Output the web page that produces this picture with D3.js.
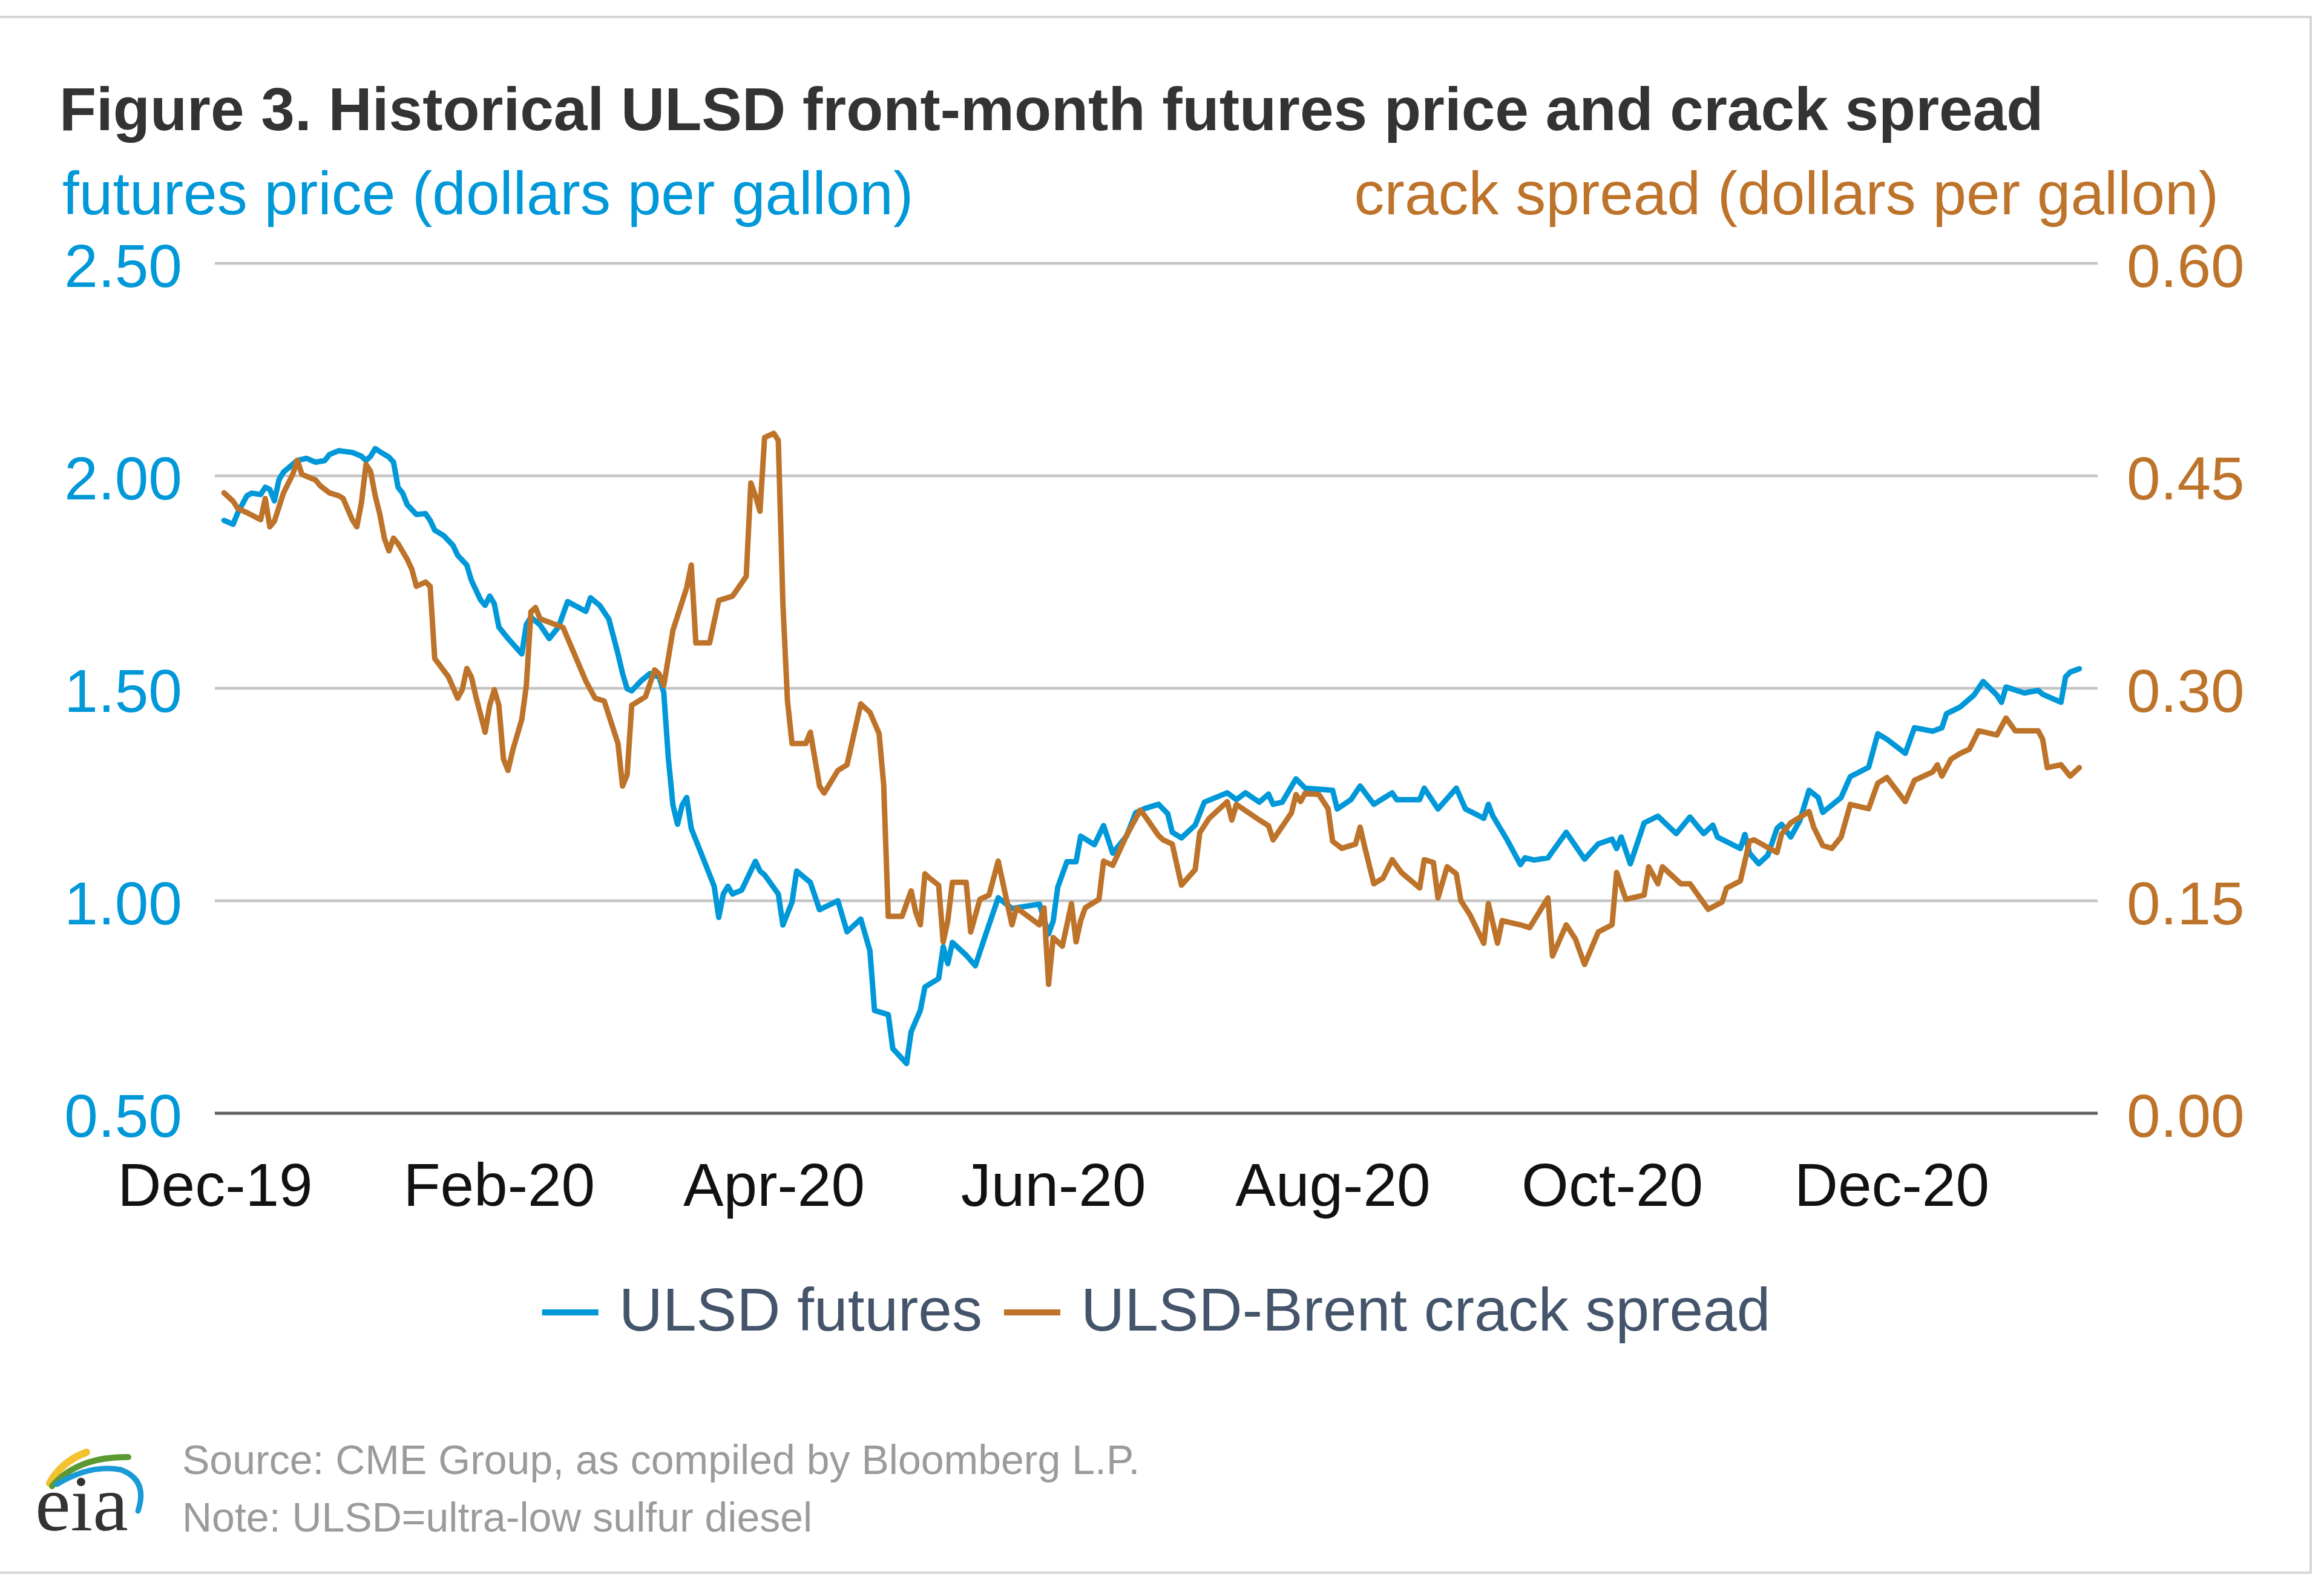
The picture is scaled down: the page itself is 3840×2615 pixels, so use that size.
<!DOCTYPE html>
<html><head><meta charset="utf-8">
<script src="https://cdn.jsdelivr.net/npm/d3@7"></script>
<style>
html,body{margin:0;padding:0;background:#fff;}
svg{display:block;}
text{font-family:"Liberation Sans",Arial,Helvetica,sans-serif;}
text.serif{font-family:"Liberation Serif","DejaVu Serif",serif;}
</style></head><body>
<svg id="chart" width="3840" height="2615"></svg>
<script>
// ---------------- DATA ----------------
const titleText = "Figure 3. Historical ULSD front-month futures price and crack spread";
const leftAxisTitle = "futures price (dollars per gallon)";
const rightAxisTitle = "crack spread (dollars per gallon)";
const seriesNames = ["ULSD futures", "ULSD-Brent crack spread"];
const sourceText = "Source: CME Group, as compiled by Bloomberg L.P.";
const noteText = "Note: ULSD=ultra-low sulfur diesel";
const priceTicks = [0.5, 1.0, 1.5, 2.0, 2.5];
const spreadTicks = [0, 0.15, 0.30, 0.45, 0.60];
const dateTicks = ["2019-12-01","2020-02-01","2020-04-01","2020-06-01","2020-08-01","2020-10-01","2020-12-01"];
const dateDomain = ["2019-12-01","2021-01-15"];

const futures = [["2019-12-03",1.895],["2019-12-05",1.886],["2019-12-06",1.913],["2019-12-08",1.953],["2019-12-09",1.959],["2019-12-11",1.956],["2019-12-12",1.973],["2019-12-13",1.968],["2019-12-14",1.941],["2019-12-15",1.991],["2019-12-16",2.009],["2019-12-18",2.027],["2019-12-19",2.036],["2019-12-21",2.041],["2019-12-23",2.032],["2019-12-25",2.036],["2019-12-26",2.050],["2019-12-28",2.059],["2019-12-31",2.055],["2020-01-02",2.046],["2020-01-03",2.036],["2020-01-04",2.046],["2020-01-05",2.064],["2020-01-06",2.057],["2020-01-08",2.044],["2020-01-09",2.032],["2020-01-10",1.973],["2020-01-11",1.959],["2020-01-12",1.932],["2020-01-14",1.909],["2020-01-16",1.911],["2020-01-17",1.895],["2020-01-18",1.872],["2020-01-20",1.859],["2020-01-22",1.836],["2020-01-23",1.813],["2020-01-25",1.790],["2020-01-26",1.754],["2020-01-28",1.708],["2020-01-29",1.695],["2020-01-30",1.717],["2020-01-31",1.699],["2020-02-01",1.644],["2020-02-03",1.617],["2020-02-06",1.581],["2020-02-07",1.650],["2020-02-08",1.667],["2020-02-10",1.649],["2020-02-12",1.617],["2020-02-14",1.644],["2020-02-16",1.704],["2020-02-20",1.681],["2020-02-21",1.713],["2020-02-23",1.695],["2020-02-25",1.663],["2020-02-27",1.581],["2020-02-28",1.535],["2020-02-29",1.499],["2020-03-01",1.494],["2020-03-03",1.517],["2020-03-05",1.535],["2020-03-07",1.526],["2020-03-08",1.490],["2020-03-09",1.335],["2020-03-10",1.225],["2020-03-11",1.180],["2020-03-12",1.225],["2020-03-13",1.243],["2020-03-14",1.170],["2020-03-16",1.116],["2020-03-19",1.034],["2020-03-20",0.961],["2020-03-21",1.016],["2020-03-22",1.034],["2020-03-23",1.016],["2020-03-25",1.025],["2020-03-28",1.093],["2020-03-29",1.070],["2020-03-30",1.061],["2020-04-02",1.016],["2020-04-03",0.943],["2020-04-05",0.997],["2020-04-06",1.070],["2020-04-09",1.043],["2020-04-11",0.979],["2020-04-15",1.000],["2020-04-17",0.927],["2020-04-20",0.957],["2020-04-22",0.882],["2020-04-23",0.742],["2020-04-26",0.732],["2020-04-27",0.652],["2020-04-30",0.617],["2020-05-01",0.692],["2020-05-03",0.742],["2020-05-04",0.797],["2020-05-07",0.817],["2020-05-08",0.892],["2020-05-09",0.852],["2020-05-10",0.902],["2020-05-13",0.872],["2020-05-15",0.847],["2020-05-17",0.912],["2020-05-20",1.007],["2020-05-23",0.982],["2020-05-29",0.992],["2020-05-31",0.922],["2020-06-01",0.952],["2020-06-02",1.032],["2020-06-04",1.092],["2020-06-06",1.092],["2020-06-07",1.152],["2020-06-10",1.132],["2020-06-12",1.177],["2020-06-14",1.112],["2020-06-17",1.152],["2020-06-19",1.207],["2020-06-21",1.217],["2020-06-24",1.227],["2020-06-26",1.205],["2020-06-27",1.161],["2020-06-29",1.148],["2020-07-02",1.178],["2020-07-04",1.232],["2020-07-09",1.254],["2020-07-11",1.238],["2020-07-13",1.254],["2020-07-16",1.232],["2020-07-18",1.251],["2020-07-19",1.227],["2020-07-21",1.232],["2020-07-24",1.287],["2020-07-26",1.265],["2020-08-01",1.260],["2020-08-02",1.216],["2020-08-05",1.238],["2020-08-07",1.270],["2020-08-10",1.227],["2020-08-14",1.254],["2020-08-15",1.238],["2020-08-20",1.238],["2020-08-21",1.265],["2020-08-24",1.216],["2020-08-28",1.265],["2020-08-30",1.216],["2020-09-01",1.205],["2020-09-03",1.194],["2020-09-04",1.227],["2020-09-05",1.199],["2020-09-08",1.145],["2020-09-11",1.085],["2020-09-12",1.101],["2020-09-14",1.096],["2020-09-17",1.101],["2020-09-21",1.161],["2020-09-25",1.098],["2020-09-28",1.134],["2020-10-01",1.145],["2020-10-02",1.123],["2020-10-03",1.150],["2020-10-05",1.087],["2020-10-08",1.183],["2020-10-11",1.199],["2020-10-15",1.158],["2020-10-18",1.197],["2020-10-21",1.158],["2020-10-23",1.178],["2020-10-24",1.150],["2020-10-29",1.123],["2020-10-30",1.156],["2020-10-31",1.112],["2020-11-02",1.087],["2020-11-04",1.107],["2020-11-06",1.170],["2020-11-07",1.180],["2020-11-09",1.150],["2020-11-11",1.189],["2020-11-13",1.260],["2020-11-15",1.243],["2020-11-16",1.208],["2020-11-20",1.243],["2020-11-22",1.292],["2020-11-26",1.314],["2020-11-28",1.393],["2020-11-30",1.380],["2020-12-04",1.347],["2020-12-06",1.407],["2020-12-10",1.399],["2020-12-12",1.407],["2020-12-13",1.440],["2020-12-16",1.456],["2020-12-19",1.484],["2020-12-21",1.516],["2020-12-24",1.484],["2020-12-25",1.467],["2020-12-26",1.503],["2020-12-30",1.489],["2021-01-02",1.495],["2021-01-03",1.486],["2021-01-07",1.467],["2021-01-08",1.527],["2021-01-09",1.538],["2021-01-11",1.546]];

const crackSpread = [["2019-12-03",0.438],["2019-12-05",0.432],["2019-12-06",0.427],["2019-12-08",0.424],["2019-12-11",0.419],["2019-12-12",0.434],["2019-12-13",0.414],["2019-12-14",0.418],["2019-12-16",0.438],["2019-12-18",0.451],["2019-12-19",0.461],["2019-12-20",0.451],["2019-12-23",0.447],["2019-12-24",0.443],["2019-12-26",0.438],["2019-12-28",0.436],["2019-12-29",0.434],["2019-12-31",0.419],["2020-01-01",0.414],["2020-01-02",0.431],["2020-01-03",0.458],["2020-01-04",0.453],["2020-01-05",0.436],["2020-01-06",0.423],["2020-01-07",0.406],["2020-01-08",0.397],["2020-01-09",0.406],["2020-01-10",0.402],["2020-01-12",0.391],["2020-01-13",0.384],["2020-01-14",0.372],["2020-01-16",0.375],["2020-01-17",0.372],["2020-01-18",0.321],["2020-01-21",0.308],["2020-01-23",0.293],["2020-01-24",0.299],["2020-01-25",0.314],["2020-01-26",0.308],["2020-01-27",0.294],["2020-01-29",0.269],["2020-01-30",0.288],["2020-01-31",0.299],["2020-02-01",0.288],["2020-02-02",0.250],["2020-02-03",0.242],["2020-02-04",0.256],["2020-02-06",0.278],["2020-02-07",0.302],["2020-02-08",0.354],["2020-02-09",0.357],["2020-02-10",0.349],["2020-02-15",0.343],["2020-02-20",0.305],["2020-02-22",0.293],["2020-02-24",0.291],["2020-02-27",0.261],["2020-02-28",0.231],["2020-02-29",0.239],["2020-03-01",0.288],["2020-03-04",0.294],["2020-03-06",0.313],["2020-03-07",0.310],["2020-03-08",0.302],["2020-03-10",0.341],["2020-03-13",0.371],["2020-03-14",0.387],["2020-03-15",0.332],["2020-03-18",0.332],["2020-03-20",0.362],["2020-03-23",0.365],["2020-03-26",0.379],["2020-03-27",0.445],["2020-03-28",0.436],["2020-03-29",0.425],["2020-03-30",0.477],["2020-04-01",0.480],["2020-04-02",0.475],["2020-04-03",0.360],["2020-04-04",0.291],["2020-04-05",0.261],["2020-04-08",0.261],["2020-04-09",0.269],["2020-04-11",0.231],["2020-04-12",0.226],["2020-04-15",0.242],["2020-04-17",0.246],["2020-04-20",0.289],["2020-04-22",0.283],["2020-04-24",0.268],["2020-04-25",0.232],["2020-04-26",0.139],["2020-04-29",0.139],["2020-05-01",0.157],["2020-05-02",0.142],["2020-05-03",0.133],["2020-05-04",0.169],["2020-05-05",0.166],["2020-05-07",0.161],["2020-05-08",0.121],["2020-05-09",0.136],["2020-05-10",0.163],["2020-05-13",0.163],["2020-05-14",0.128],["2020-05-16",0.151],["2020-05-18",0.154],["2020-05-20",0.178],["2020-05-22",0.148],["2020-05-23",0.133],["2020-05-24",0.145],["2020-05-29",0.133],["2020-05-30",0.145],["2020-05-31",0.091],["2020-06-01",0.124],["2020-06-03",0.118],["2020-06-05",0.148],["2020-06-06",0.121],["2020-06-07",0.136],["2020-06-08",0.145],["2020-06-11",0.151],["2020-06-12",0.178],["2020-06-14",0.175],["2020-06-17",0.196],["2020-06-20",0.214],["2020-06-21",0.210],["2020-06-24",0.196],["2020-06-25",0.193],["2020-06-27",0.190],["2020-06-29",0.161],["2020-07-02",0.172],["2020-07-03",0.198],["2020-07-05",0.208],["2020-07-09",0.220],["2020-07-10",0.207],["2020-07-11",0.218],["2020-07-16",0.207],["2020-07-18",0.203],["2020-07-19",0.193],["2020-07-23",0.212],["2020-07-24",0.225],["2020-07-25",0.220],["2020-07-26",0.226],["2020-07-29",0.225],["2020-07-31",0.215],["2020-08-01",0.192],["2020-08-03",0.187],["2020-08-06",0.190],["2020-08-07",0.202],["2020-08-08",0.188],["2020-08-10",0.162],["2020-08-12",0.166],["2020-08-14",0.179],["2020-08-16",0.170],["2020-08-20",0.159],["2020-08-21",0.179],["2020-08-23",0.177],["2020-08-24",0.152],["2020-08-26",0.174],["2020-08-28",0.169],["2020-08-29",0.150],["2020-08-31",0.140],["2020-09-03",0.120],["2020-09-04",0.148],["2020-09-06",0.120],["2020-09-07",0.136],["2020-09-11",0.133],["2020-09-13",0.131],["2020-09-17",0.152],["2020-09-18",0.111],["2020-09-21",0.133],["2020-09-23",0.123],["2020-09-25",0.105],["2020-09-28",0.128],["2020-10-01",0.133],["2020-10-02",0.170],["2020-10-04",0.151],["2020-10-08",0.154],["2020-10-09",0.174],["2020-10-11",0.162],["2020-10-12",0.174],["2020-10-16",0.162],["2020-10-18",0.162],["2020-10-22",0.144],["2020-10-25",0.149],["2020-10-26",0.159],["2020-10-29",0.164],["2020-10-31",0.192],["2020-11-01",0.193],["2020-11-06",0.184],["2020-11-07",0.197],["2020-11-09",0.205],["2020-11-13",0.213],["2020-11-14",0.202],["2020-11-16",0.189],["2020-11-18",0.187],["2020-11-20",0.195],["2020-11-22",0.218],["2020-11-26",0.215],["2020-11-28",0.233],["2020-11-30",0.237],["2020-12-04",0.220],["2020-12-06",0.235],["2020-12-10",0.241],["2020-12-11",0.246],["2020-12-12",0.238],["2020-12-14",0.250],["2020-12-16",0.254],["2020-12-18",0.257],["2020-12-20",0.270],["2020-12-24",0.267],["2020-12-26",0.279],["2020-12-28",0.270],["2021-01-02",0.270],["2021-01-03",0.264],["2021-01-04",0.244],["2021-01-07",0.246],["2021-01-09",0.238],["2021-01-11",0.244]];

// ---------------- STYLE / LAYOUT ----------------
const BLUE = "#0098d8", BROWN = "#bd732a";
const W = 3840, H = 2615;
const plot = {left: 355, right: 3466, top: 435, bottom: 1839};
const parse = d3.timeParse("%Y-%m-%d");

const svg = d3.select("#chart");
svg.append("rect").attr("width", W).attr("height", H).attr("fill", "#fff");
// outer frame
svg.append("rect").attr("x", -20).attr("y", 28).attr("width", 3838).attr("height", 2570)
  .attr("fill", "none").attr("stroke", "#d6d6d6").attr("stroke-width", 4);

const x = d3.scaleTime().domain(dateDomain.map(parse)).range([plot.left, plot.right]);
const yP = d3.scaleLinear().domain([0.5, 2.5]).range([plot.bottom, plot.top]);
const yS = d3.scaleLinear().domain([0, 0.6]).range([plot.bottom, plot.top]);

// gridlines
svg.append("g").selectAll("line").data(priceTicks.slice(1)).join("line")
  .attr("x1", plot.left).attr("x2", plot.right)
  .attr("y1", d => yP(d)).attr("y2", d => yP(d))
  .attr("stroke", "#c4c4c4").attr("stroke-width", 4.5);
svg.append("line").attr("x1", plot.left).attr("x2", plot.right)
  .attr("y1", yP(0.5)).attr("y2", yP(0.5))
  .attr("stroke", "#5f5f5f").attr("stroke-width", 5);

// left axis
const gL = svg.append("g").attr("transform", `translate(${plot.left - 54},0)`)
  .call(d3.axisLeft(yP).tickValues(priceTicks).tickFormat(d3.format(".2f")).tickSize(0).tickPadding(0));
gL.select(".domain").remove();
gL.selectAll("text").attr("fill", BLUE).attr("font-size", 100).attr("dy", "0.38em");

// right axis
const gR = svg.append("g").attr("transform", `translate(${plot.right + 48},0)`)
  .call(d3.axisRight(yS).tickValues(spreadTicks).tickFormat(d3.format(".2f")).tickSize(0).tickPadding(0));
gR.select(".domain").remove();
gR.selectAll("text").attr("fill", BROWN).attr("font-size", 100).attr("dy", "0.38em");

// bottom axis
const gB = svg.append("g").attr("transform", `translate(0,${plot.bottom})`)
  .call(d3.axisBottom(x).tickValues(dateTicks.map(parse)).tickFormat(d3.timeFormat("%b-%y")).tickSize(0).tickPadding(0));
gB.select(".domain").remove();
gB.selectAll("text").attr("fill", "#111").attr("font-size", 100).attr("dy", null).attr("y", 153);

// lines
const lineP = d3.line().x(d => x(parse(d[0]))).y(d => yP(d[1]));
const lineS = d3.line().x(d => x(parse(d[0]))).y(d => yS(d[1]));
svg.append("path").datum(futures).attr("d", lineP).attr("fill", "none")
  .attr("stroke", BLUE).attr("stroke-width", 9).attr("stroke-linejoin", "round").attr("stroke-linecap", "round");
svg.append("path").datum(crackSpread).attr("d", lineS).attr("fill", "none")
  .attr("stroke", BROWN).attr("stroke-width", 9).attr("stroke-linejoin", "round").attr("stroke-linecap", "round");

// title & axis titles
svg.append("text").attr("x", 98).attr("y", 215).attr("font-size", 100).attr("font-weight", "bold")
  .attr("fill", "#333").text(titleText);
svg.append("text").attr("x", 103).attr("y", 354).attr("font-size", 100).attr("fill", BLUE).text(leftAxisTitle);
svg.append("text").attr("x", 3666).attr("y", 354).attr("font-size", 100).attr("fill", BROWN)
  .attr("text-anchor", "end").text(rightAxisTitle);

// legend
const leg = svg.append("g");
const legColors = [BLUE, BROWN];
const legY = 2198;
let cx = 0;
seriesNames.forEach((name, i) => {
  const g = leg.append("g");
  g.append("line").attr("x1", cx).attr("x2", cx + 93).attr("y1", legY - 30).attr("y2", legY - 30)
    .attr("stroke", legColors[i]).attr("stroke-width", 10);
  const t = g.append("text").attr("x", cx + 127).attr("y", legY).attr("font-size", 100)
    .attr("fill", "#44546a").text(name);
  cx = cx + 127 + t.node().getComputedTextLength() + 36;
});
const legW = cx - 36;
leg.attr("transform", `translate(${(plot.left + plot.right) / 2 - legW / 2},0)`);

// footer
svg.append("text").attr("x", 301).attr("y", 2435).attr("font-size", 68).attr("fill", "#9b9b9b").text(sourceText);
svg.append("text").attr("x", 301).attr("y", 2530).attr("font-size", 68).attr("fill", "#9b9b9b").text(noteText);

// EIA logo
const logo = svg.append("g");
logo.append("path").attr("d", "M82,2450 Q102,2414 143,2399").attr("fill", "none")
  .attr("stroke", "#f2c230").attr("stroke-width", 12).attr("stroke-linecap", "round");
logo.append("path").attr("d", "M86,2455 Q128,2406 212,2407").attr("fill", "none")
  .attr("stroke", "#5b9a32").attr("stroke-width", 10).attr("stroke-linecap", "round");
logo.append("path").attr("d", "M94,2452 Q150,2418 200,2428 Q245,2445 228,2496").attr("fill", "none")
  .attr("stroke", "#1a9bd7").attr("stroke-width", 9).attr("stroke-linecap", "round");
logo.append("text").attr("class", "serif").attr("x", 58).attr("y", 2528).attr("font-size", 132)
  .attr("fill", "#333").text("eia");
</script>
</body></html>
